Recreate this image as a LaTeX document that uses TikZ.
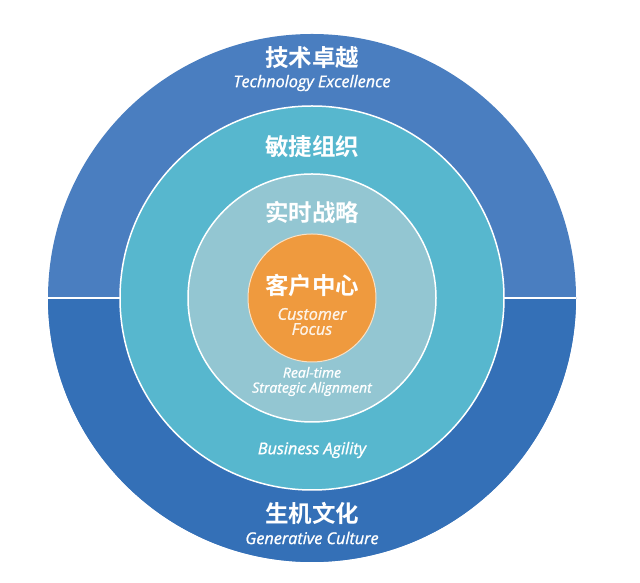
\documentclass[tikz,border=0pt]{standalone}
\usepackage{fontspec}
\setmainfont{Open Sans}[ItalicFeatures={FakeBold=1.2}]
\newfontfamily\cjk{Noto Sans CJK SC}[BoldFont={* Bold}]
\definecolor{topblue}{HTML}{4A7EC0}
\definecolor{botblue}{HTML}{3470B7}
\definecolor{ringtwo}{HTML}{57B7CE}
\definecolor{ringthree}{HTML}{93C6D2}
\definecolor{core}{HTML}{EF9A3E}
\begin{document}
\begin{tikzpicture}[x=1pt,y=1pt,
  zh/.style={text=white,font=\cjk\bfseries\fontsize{23.5}{25}\selectfont,inner sep=0pt},
  en/.style={text=white,font=\itshape\fontsize{16.2}{15}\selectfont,inner sep=0pt,align=center},
  ring/.style={draw=white,line width=1.5pt}]
\useasboundingbox (0,0) rectangle (640,583);
\fill[white] (0,0) rectangle (640,583);
\coordinate (c) at (312,285);
\fill[topblue] (c) circle (264);
\fill[botblue] (48,285) arc (180:360:264) -- cycle;
\draw[white,line width=2pt] (48,285) -- (576,285);
\draw[ring,fill=ringtwo] (c) circle (192);
\draw[ring,fill=ringthree] (c) circle (124);
\draw[draw=white!70!core,line width=1pt,fill=core] (c) circle (64);
\node[zh] (tech) at (312,525) {技术卓越};
\node[en] (techen) at (312,500) {Technology Excellence};
\node[zh] (agile) at (312,436) {敏捷组织};
\node[zh] (strat) at (312,371) {实时战略};
\node[zh] (cust) at (312,297) {客户中心};
\node[en,text=white!88!core] (custen) at (312,261.5) {Customer\\Focus};
\node[en,font=\itshape\fontsize{14}{15}\selectfont] (straten) at (312,201.5) {Real-time\\Strategic Alignment};
\node[en] (agileen) at (312,133) {Business Agility};
\node[zh] (gen) at (312,70) {生机文化};
\node[en] (genen) at (312,45) {Generative Culture};
\end{tikzpicture}
\end{document}
